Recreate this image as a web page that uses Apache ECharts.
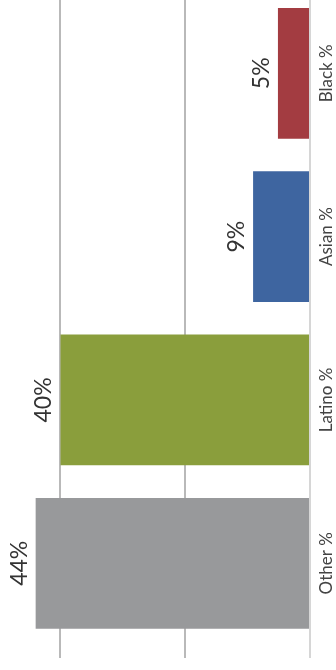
<!DOCTYPE html>
<html><head><meta charset="utf-8">
<script src="https://cdn.jsdelivr.net/npm/echarts@6/dist/echarts.min.js"></script>
<style>html,body{margin:0;padding:0;background:#fff}#c{width:336px;height:670px}</style>
</head><body><div id="c"></div>
<script>
const categories = ['Black %', 'Asian %', 'Latino %', 'Other %'];
const values = [5, 9, 40, 44];
const gridTicks = [0, 20, 40];
const barColors = ['#a33c41', '#3e65a0', '#8a9e3c', '#98999b'];

const chart = echarts.init(document.getElementById('c'), null, {renderer: 'canvas'});
const fontFam = 'Lato, "Noto Sans", sans-serif';
chart.setOption({
  animation: false,
  grid: [
    {left: 60, right: 26, top: 0, height: 658},
    {left: 60.5, right: 27, top: 73.3, height: 490}
  ],
  xAxis: [
    {gridIndex: 0, type: 'value', inverse: true, min: gridTicks[0], max: gridTicks[gridTicks.length-1], interval: 20,
     axisLine: {show: false}, axisTick: {show: false}, axisLabel: {show: false},
     splitLine: {show: true, lineStyle: {color: ['#d6d6d6', '#b9b9b9', '#b9b9b9'], width: 2}}},
    {gridIndex: 1, type: 'value', inverse: true, min: 0, max: 40, interval: 20, show: false,
     splitLine: {show: false}}
  ],
  yAxis: [
    {gridIndex: 0, type: 'value', show: false, splitLine: {show: false}},
    {gridIndex: 1, type: 'category', data: categories, inverse: true, position: 'right', boundaryGap: false,
     axisLine: {show: false}, axisTick: {show: false},
     axisLabel: {rotate: 90, margin: 9, fontSize: 17, color: '#444', fontFamily: fontFam,
                 align: 'center', verticalAlign: 'top'}}
  ],
  series: [{
    type: 'bar', xAxisIndex: 1, yAxisIndex: 1, clip: false, barWidth: 130.7, z: 1,
    data: values.map((v, i) => ({value: v, itemStyle: {color: barColors[i]}})),
    label: {show: true, position: 'left', distance: 5, rotate: 90, align: 'center', verticalAlign: 'bottom',
            formatter: '{c}%', fontSize: 23, color: '#333', fontFamily: fontFam}
  }]
});
</script></body></html>
